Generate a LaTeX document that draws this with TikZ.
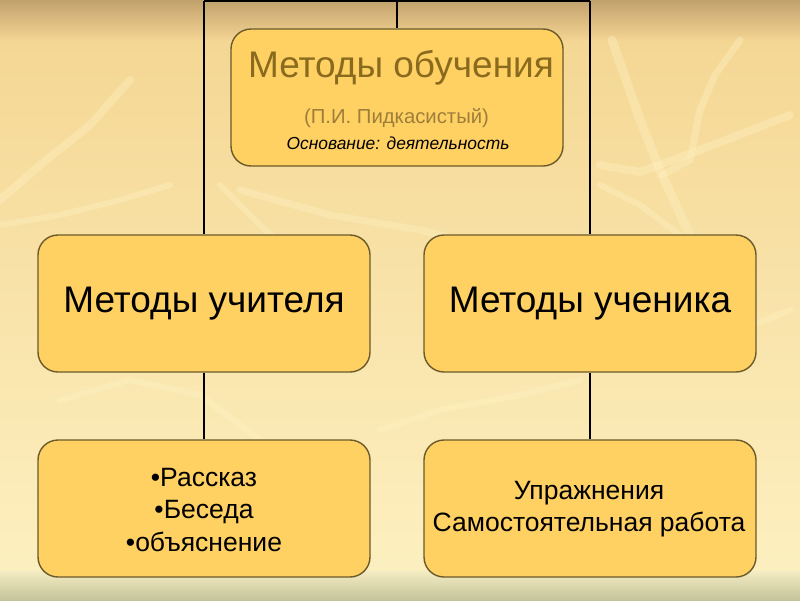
\documentclass[tikz,border=0pt]{standalone}
\usepackage{fontspec}
\setmainfont{Liberation Sans}
\usetikzlibrary{positioning}
\definecolor{bgtop}{HTML}{F4D591}
\definecolor{bgbot}{HTML}{FDF1C2}
\definecolor{bandtop}{HTML}{C2A26C}
\definecolor{bandbot}{HTML}{F3D493}
\definecolor{footA}{HTML}{F6EDC4}
\definecolor{footB}{HTML}{C4C49A}
\definecolor{boxfill}{HTML}{FFD062}
\definecolor{boxedge}{HTML}{6B5A2A}
\definecolor{titlecol}{HTML}{8A6A1E}
\definecolor{authcol}{HTML}{9E7F3A}
\definecolor{leaf}{HTML}{FFF4C6}
\tikzset{
  mbox/.style={draw=boxedge, line width=1.4pt, fill=boxfill, rounded corners=20pt,
    minimum width=332pt, minimum height=137pt, inner sep=0pt, align=center},
  conn/.style={draw=black, line width=2pt},
  leafstroke/.style={draw=leaf, line cap=round, line join=round, opacity=0.35},
}
\begin{document}
\begin{tikzpicture}[x=1pt,y=-1pt]
\useasboundingbox (0,0) rectangle (800,600);
% background
\shade[top color=bgtop, bottom color=bgbot] (0,0) rectangle (800,600);
\shade[top color=bandtop, bottom color=bandbot] (0,0) rectangle (800,40);
\shade[top color=footA, bottom color=footB] (0,570) rectangle (800,600);
% faint leaf pattern
\draw[leafstroke, line width=9pt] (612,40) -- (640,120) -- (662,175) -- (690,235);
\draw[leafstroke, line width=7pt] (740,40) -- (715,75) -- (700,110) -- (690,160) -- (662,175);
\draw[leafstroke, line width=8pt] (600,165) -- (640,172) -- (700,150) -- (790,115);
\draw[leafstroke, line width=8pt] (0,200) -- (40,165) -- (90,125) -- (130,80);
\draw[leafstroke, line width=6pt] (0,225) -- (60,215) -- (120,200) -- (170,185);
\draw[leafstroke, line width=6pt] (220,185) -- (260,225) -- (300,260);
\draw[leafstroke, line width=7pt] (240,190) -- (330,215) -- (420,230) -- (480,245);
\draw[leafstroke, line width=6pt] (600,185) -- (640,205) -- (680,235);
\draw[leafstroke, line width=6pt] (60,400) -- (130,380) -- (200,395) -- (260,440);
\draw[leafstroke, line width=6pt] (380,430) -- (440,410) -- (520,395) -- (580,380);
\draw[leafstroke, line width=6pt] (740,330) -- (790,310);
% boxes
\node[mbox] (top) at (397,97.5) {};
\node[mbox] (mL) at (204,303.5) {};
\node[mbox] (mR) at (590,303.5) {};
\node[mbox] (bL) at (204,508.5) {};
\node[mbox] (bR) at (590,508.5) {};
% connectors
\coordinate (tl) at (204,1);
\coordinate (tm) at (397,1);
\coordinate (tr) at (590,1);
\draw[conn] (tl) -- (tr);
\draw[conn] (tl) -- (mL.north);
\draw[conn] (tr) -- (mR.north);
\draw[conn] (tm) -- (top.north);
\draw[conn] (mL.south) -- (bL.north);
\draw[conn] (mR.south) -- (bR.north);
% texts
\node[text=titlecol, font=\fontsize{37}{42}\selectfont] (t1) at (401,68) {Методы обучения};
\node[text=authcol, font=\fontsize{20.3}{24}\selectfont] (t2) at (396.5,118) {(П.И. Пидкасистый)};
\node[text=black, font=\itshape\fontsize{17.4}{21}\selectfont] (t3) at (398,143) {Основание: деятельность};
\node[font=\fontsize{37}{42}\selectfont] (tL) at (204,304) {Методы учителя};
\node[font=\fontsize{37}{42}\selectfont] (tR) at (590,304) {Методы ученика};
\node[font=\fontsize{26.5}{32.5}\selectfont, align=center] (lL) at (204,510) {•Рассказ\\•Беседа\\•объяснение};
\node[font=\fontsize{26.5}{32}\selectfont, align=center] (lR) at (589,509) {Упражнения\\Самостоятельная работа};
\end{tikzpicture}
\end{document}
